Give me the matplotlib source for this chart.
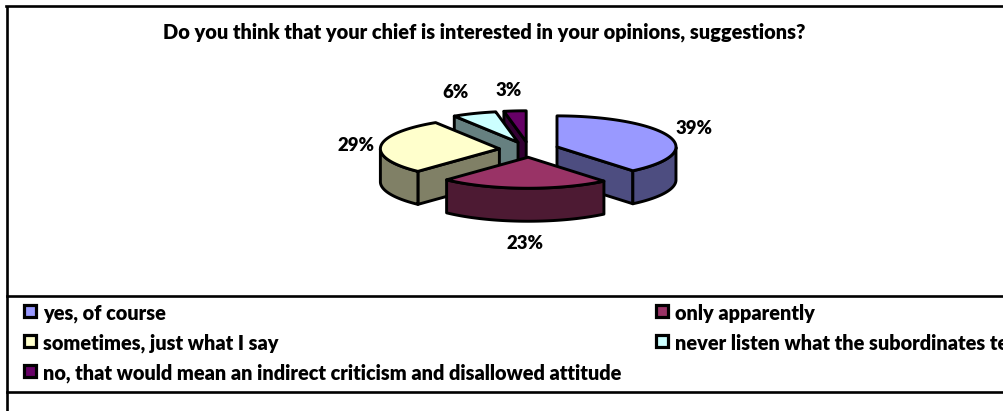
import numpy as np
import matplotlib
matplotlib.use("Agg")
import matplotlib.pyplot as plt
from matplotlib.patches import Polygon, Rectangle

# Survey answers, clockwise from twelve o'clock
categories = [
    "yes, of course",
    "only apparently",
    "sometimes, just what I say",
    "never listen what the subordinates tell",
    "no, that would mean an indirect criticism and disallowed attitude",
]
shares = [39, 23, 29, 6, 3]
top_colors = ["#9999FF", "#993366", "#FFFFCC", "#CCFFFF", "#660066"]
side_colors = ["#4D4D80", "#4D1A33", "#808066", "#668080", "#330033"]
title = "Do you think that your chief is interested in your opinions, suggestions?"

W, H = 1004, 411
CX, CY, RX, RY, DEPTH, EXPLODE = 529, 149.5, 119, 31, 33, 0.25
EDGE = "#000000"

plt.rcParams["font.family"] = ["Lato", "DejaVu Sans"]
plt.rcParams["font.weight"] = 800

fig = plt.figure(figsize=(W / 100, H / 100), dpi=100)
ax = fig.add_axes([0, 0, 1, 1])
ax.set_xlim(0, W)
ax.set_ylim(H, 0)
ax.axis("off")

# Frame around the chart and the legend band
ax.plot([7, 7], [H, 6], color="black", lw=1.9, solid_capstyle="butt")
ax.plot([6, W], [6, 6], color="black", lw=1.9)
ax.plot([7, W], [296, 296], color="black", lw=1.9)
ax.plot([7, W], [392, 392], color="black", lw=1.9)

ax.text(484, 32, title, ha="center", va="center", fontsize=14.4)


def rim(a0, a1, tip, n=80):
    t = np.radians(np.linspace(a0, a1, n))
    return np.column_stack([tip[0] + RX * np.sin(t), tip[1] - RY * np.cos(t)])


edges = np.concatenate([[0], np.cumsum(shares)]) * 3.6
slices = []
for i in range(len(shares)):
    a0, a1 = edges[i], edges[i + 1]
    mid = np.radians((a0 + a1) / 2)
    tip = (CX + EXPLODE * RX * np.sin(mid), CY - EXPLODE * RY * np.cos(mid))
    slices.append((i, a0, a1, tip))


def draw_slice(i, a0, a1, tip, z):
    arc = rim(a0, a1, tip)
    drop = np.array([0, DEPTH])
    apex = np.array(tip)
    centre = arc[len(arc) // 2]
    style = dict(edgecolor=EDGE, lw=2.1, joinstyle="round", zorder=z)
    for p in (arc[0], arc[-1]):
        # A cut face shows only when its outward normal points down the page
        d = p - apex
        normal = np.array([d[1], -d[0]])
        if normal @ (centre - apex) > 0:
            normal = -normal
        if normal[1] > 1:
            wall = [apex, p, p + drop, apex + drop]
            ax.add_patch(Polygon(wall, closed=True, facecolor=side_colors[i], **style))
    # Outer wall: only the part of the arc that faces the viewer
    t = np.linspace(a0, a1, 120)
    front = (t > 90) & (t < 270)
    if front.any():
        outer = rim(t[front][0], t[front][-1], tip)
        ax.add_patch(Polygon(np.vstack([outer, (outer + drop)[::-1]]), closed=True,
                             facecolor=side_colors[i], **style))
    ax.add_patch(Polygon(np.vstack([[tip], arc]), closed=True,
                         facecolor=top_colors[i], **style))


# Paint back to front so nearer slices cover farther ones
for z, idx in enumerate([4, 3, 2, 0, 1]):
    draw_slice(*slices[idx], z=3 + z)

label_xy = [(694, 128), (525, 243), (356, 145), (456, 93), (509, 90)]
for share, (x, y) in zip(shares, label_xy):
    ax.text(x, y, f"{share}%", ha="center", va="center", fontsize=13.3, zorder=10)

# Legend: two columns, three rows
box_xy = [(30, 310.5), (662, 310.5), (30, 341), (662, 341), (30, 371)]
text_y = [313, 313, 343, 343, 373]
for name, color, (x, y), ty in zip(categories, top_colors, box_xy, text_y):
    ax.add_patch(Rectangle((x - 6, y - 6), 12, 12, facecolor=color, edgecolor="black",
                           lw=2.3, zorder=4))
    ax.text(x + 13, ty, name, ha="left", va="center", fontsize=14.35, clip_on=True)

fig.savefig("out.png", dpi=100, facecolor="white")
